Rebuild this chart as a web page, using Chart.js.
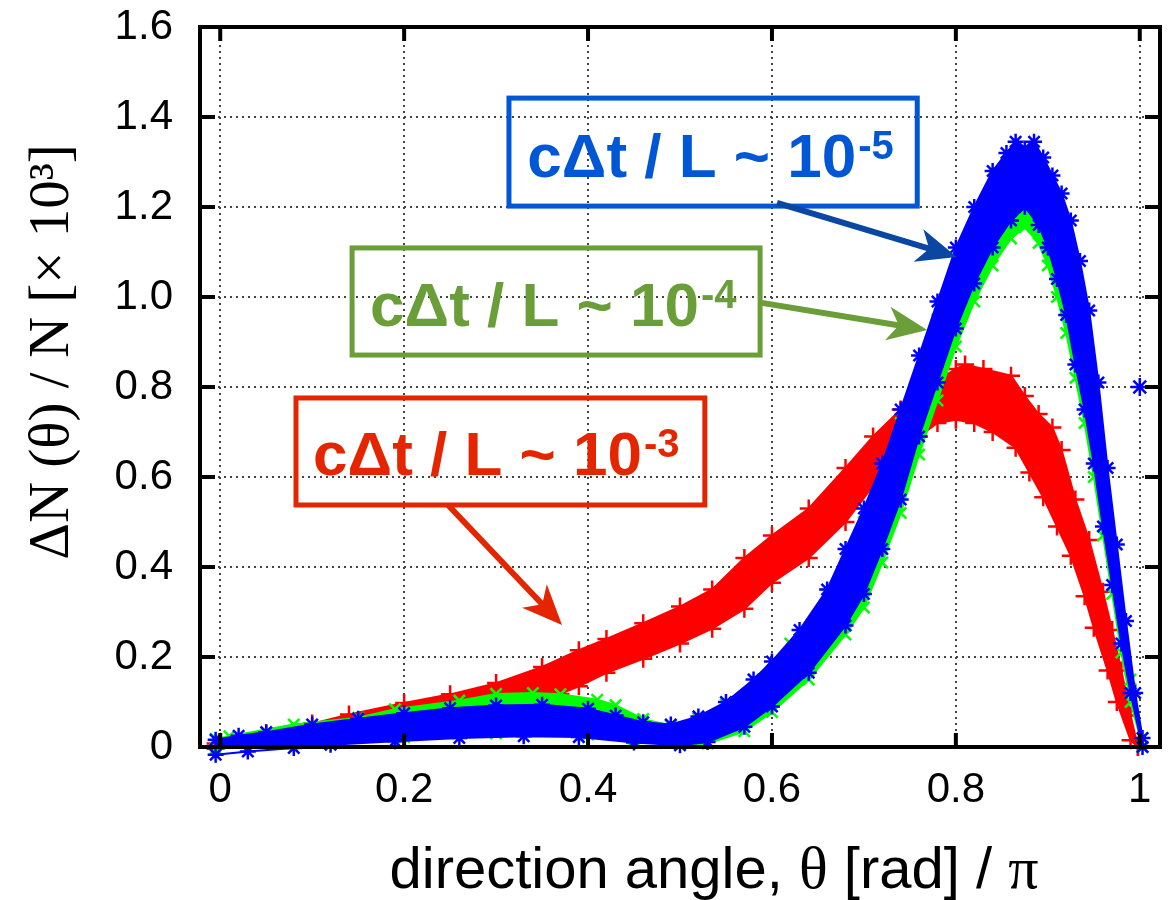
<!DOCTYPE html>
<html>
<head>
<meta charset="utf-8">
<script src="https://cdn.jsdelivr.net/npm/chart.js@4"></script>
<style>
  body { margin: 0; background: #fff; }
  #wrap { width: 1175px; height: 900px; }
</style>
</head>
<body>
<div id="wrap"><canvas id="angleChart"></canvas></div>
<script>
// ----------- Data -----------
// each run is drawn as a band: upper and lower envelope of its scatter
const xTickValues = [0, 0.2, 0.4, 0.6, 0.8, 1];
const xTickLabels = ["0", "0.2", "0.4", "0.6", "0.8", "1"];
const yTickValues = [0, 0.2, 0.4, 0.6, 0.8, 1.0, 1.2, 1.4, 1.6];
const yTickLabels = ["0", "0.2", "0.4", "0.6", "0.8", "1.0", "1.2", "1.4", "1.6"];

// cΔt / L ~ 10^-3 (red)
const redUpX = [-0.005, 0.05, 0.1, 0.14, 0.2, 0.25, 0.3, 0.35, 0.39, 0.42, 0.46, 0.5, 0.535, 0.57, 0.6, 0.64, 0.68, 0.71, 0.74, 0.76, 0.78, 0.8, 0.81, 0.83, 0.86, 0.875, 0.89, 0.905, 0.915, 0.93, 0.945, 0.96, 0.97, 0.98, 0.99, 0.998];
const redUpY = [0.008, 0.03, 0.052, 0.072, 0.098, 0.117, 0.142, 0.178, 0.215, 0.24, 0.275, 0.312, 0.35, 0.42, 0.47, 0.53, 0.62, 0.69, 0.75, 0.78, 0.815, 0.84, 0.85, 0.84, 0.825, 0.78, 0.74, 0.71, 0.66, 0.55, 0.46, 0.345, 0.26, 0.17, 0.07, 0.0];
const redLowX = [-0.005, 0.05, 0.1, 0.2, 0.3, 0.37, 0.39, 0.42, 0.46, 0.5, 0.535, 0.57, 0.6, 0.64, 0.68, 0.71, 0.74, 0.76, 0.78, 0.8, 0.82, 0.84, 0.865, 0.88, 0.895, 0.91, 0.925, 0.94, 0.95, 0.965, 0.975, 0.99, 0.998];
const redLowY = [-0.004, 0.012, 0.028, 0.058, 0.09, 0.118, 0.135, 0.165, 0.196, 0.23, 0.263, 0.307, 0.365, 0.42, 0.5, 0.58, 0.65, 0.69, 0.72, 0.727, 0.72, 0.7, 0.665, 0.61, 0.555, 0.49, 0.425, 0.335, 0.265, 0.17, 0.1, 0.015, 0.0];

// cΔt / L ~ 10^-4 (green)
const greenUpX = [-0.005, 0.01, 0.08, 0.15, 0.19, 0.26, 0.3, 0.34, 0.37, 0.41, 0.43, 0.46, 0.49, 0.52, 0.55, 0.58, 0.62, 0.66, 0.7, 0.74, 0.78, 0.82, 0.85, 0.87, 0.89, 0.91, 0.93, 0.95, 0.97, 0.99, 1.003];
const greenUpY = [0.018, 0.024, 0.05, 0.065, 0.084, 0.103, 0.118, 0.12, 0.117, 0.105, 0.093, 0.062, 0.048, 0.064, 0.095, 0.15, 0.23, 0.34, 0.5, 0.72, 0.95, 1.15, 1.23, 1.25, 1.24, 1.18, 1.05, 0.8, 0.45, 0.15, 0.02];
const greenLowX = [-0.005, 0.1, 0.2, 0.3, 0.4, 0.45, 0.5, 0.53, 0.57, 0.6, 0.64, 0.68, 0.7, 0.72, 0.74, 0.76, 0.78, 0.8, 0.82, 0.84, 0.86, 0.875, 0.89, 0.9, 0.91, 0.92, 0.93, 0.94, 0.95, 0.96, 0.97, 0.98, 0.99, 1.003];
const greenLowY = [-0.004, 0.012, 0.022, 0.03, 0.028, 0.014, 0.004, 0.008, 0.035, 0.078, 0.15, 0.25, 0.31, 0.41, 0.52, 0.65, 0.77, 0.89, 0.99, 1.07, 1.13, 1.155, 1.12, 1.07, 1.0, 0.92, 0.82, 0.72, 0.6, 0.47, 0.34, 0.21, 0.1, 0.0];

// cΔt / L ~ 10^-5 (blue)
const blueUpX = [-0.005, 0.02, 0.05, 0.1, 0.15, 0.2, 0.25, 0.3, 0.35, 0.4, 0.43, 0.46, 0.49, 0.52, 0.55, 0.58, 0.6, 0.63, 0.66, 0.68, 0.7, 0.72, 0.74, 0.76, 0.78, 0.8, 0.82, 0.84, 0.855, 0.865, 0.875, 0.885, 0.895, 0.905, 0.915, 0.925, 0.935, 0.945, 0.955, 0.965, 0.975, 0.985, 0.995, 1.003];
const blueUpY = [0.016, 0.025, 0.033, 0.05, 0.063, 0.075, 0.086, 0.092, 0.094, 0.085, 0.07, 0.055, 0.05, 0.068, 0.1, 0.15, 0.19, 0.26, 0.35, 0.44, 0.53, 0.63, 0.75, 0.87, 0.99, 1.11, 1.2, 1.28, 1.32, 1.345, 1.33, 1.345, 1.31, 1.27, 1.23, 1.17, 1.08, 0.97, 0.81, 0.62, 0.45, 0.28, 0.12, 0.02];
const blueLowX = [-0.005, 0.03, 0.08, 0.12, 0.19, 0.26, 0.33, 0.39, 0.45, 0.5, 0.53, 0.57, 0.6, 0.64, 0.68, 0.7, 0.72, 0.74, 0.76, 0.78, 0.8, 0.82, 0.84, 0.86, 0.875, 0.89, 0.9, 0.91, 0.92, 0.93, 0.94, 0.95, 0.96, 0.97, 0.98, 0.99, 1.003];
const blueLowY = [-0.017, -0.01, -0.002, 0.005, 0.013, 0.02, 0.024, 0.022, 0.01, 0.004, 0.011, 0.045, 0.09, 0.165, 0.27, 0.34, 0.44, 0.55, 0.69, 0.81, 0.93, 1.03, 1.11, 1.17, 1.2, 1.16, 1.11, 1.04, 0.96, 0.85, 0.75, 0.63, 0.49, 0.36, 0.23, 0.12, 0.0];
const blueStrayX = [1.0];
const blueStrayY = [0.8];

// ----------- Labels in the plot (data coordinates) -----------
const notes = [
    { color: "#0057d6", arrowColor: "#0a47a3", exp: "-5",
      box: [0.314, 1.442, 0.758, 1.202], text: [0.334, 1.267],
      from: [0.6055, 1.209], to: [0.801, 1.089] },
    { color: "#6a9e39", arrowColor: "#6a9e39", exp: "-4",
      box: [0.1434, 1.109, 0.5871, 0.871], text: [0.163, 0.936],
      from: [0.589, 0.987], to: [0.7689, 0.9267] },
    { color: "#e32600", arrowColor: "#e32600", exp: "-3",
      box: [0.0824, 0.7756, 0.527, 0.5378], text: [0.101, 0.604],
      from: [0.2477, 0.5378], to: [0.3717, 0.2711] }
];

const pairs = (xs, ys) => xs.map((v, i) => ({ x: v, y: ys[i] }));

function band(xs, ys, color, style, size, fill) {
    return {
        data: pairs(xs, ys),
        showLine: true,
        borderColor: color,
        backgroundColor: color,
        borderWidth: 2,
        pointStyle: style,
        pointRadius: size,
        pointBorderWidth: 2.5,
        pointBorderColor: color,
        fill: fill,
        clip: false
    };
}

// ----------- Frame, inward ticks, titles, notes -----------
function arrow(ctx, x0, y0, x1, y1, color) {
    const dx = x1 - x0, dy = y1 - y0, len = Math.hypot(dx, dy);
    const ux = dx / len, uy = dy / len;
    const L = 40, W = 17;
    ctx.strokeStyle = color;
    ctx.fillStyle = color;
    ctx.lineWidth = 6;
    ctx.beginPath();
    ctx.moveTo(x0, y0);
    ctx.lineTo(x1 - ux * L * 0.7, y1 - uy * L * 0.7);
    ctx.stroke();
    ctx.beginPath();
    ctx.moveTo(x1, y1);
    ctx.lineTo(x1 - ux * L - uy * W, y1 - uy * L + ux * W);
    ctx.lineTo(x1 - ux * L * 0.72, y1 - uy * L * 0.72);
    ctx.lineTo(x1 - ux * L + uy * W, y1 - uy * L - ux * W);
    ctx.closePath();
    ctx.fill();
}

const decor = {
    id: "decor",
    afterDatasetsDraw(chart) {
        const { ctx, chartArea: a, scales: { x, y } } = chart;
        ctx.save();
        ctx.strokeStyle = "#000";
        ctx.lineWidth = 4;
        ctx.beginPath();
        xTickValues.forEach(v => {
            const px = x.getPixelForValue(v);
            ctx.moveTo(px, a.bottom); ctx.lineTo(px, a.bottom - 14);
            ctx.moveTo(px, a.top); ctx.lineTo(px, a.top + 14);
        });
        yTickValues.forEach(v => {
            const py = y.getPixelForValue(v);
            ctx.moveTo(a.left, py); ctx.lineTo(a.left + 15, py);
            ctx.moveTo(a.right, py); ctx.lineTo(a.right - 15, py);
        });
        ctx.stroke();
        ctx.strokeRect(a.left, a.top, a.right - a.left, a.bottom - a.top);

        notes.forEach(n => {
            const bx0 = x.getPixelForValue(n.box[0]), by0 = y.getPixelForValue(n.box[1]);
            const bx1 = x.getPixelForValue(n.box[2]), by1 = y.getPixelForValue(n.box[3]);
            ctx.strokeStyle = n.color;
            ctx.lineWidth = 5;
            ctx.strokeRect(bx0, by0, bx1 - bx0, by1 - by0);
            const tx = x.getPixelForValue(n.text[0]), ty = y.getPixelForValue(n.text[1]);
            ctx.fillStyle = n.color;
            ctx.textAlign = "left";
            ctx.textBaseline = "alphabetic";
            ctx.font = 'bold 62px "Liberation Sans", Arial, sans-serif';
            const main = "cΔt / L ~ 10";
            ctx.fillText(main, tx, ty);
            const w = ctx.measureText(main).width;
            ctx.font = 'bold 40px "Liberation Sans", Arial, sans-serif';
            ctx.fillText(n.exp, tx + w + 2, ty - 18);
            arrow(ctx, x.getPixelForValue(n.from[0]), y.getPixelForValue(n.from[1]),
                  x.getPixelForValue(n.to[0]), y.getPixelForValue(n.to[1]), n.arrowColor);
        });
        ctx.restore();
    },
    afterDraw(chart) {
        const { ctx } = chart;
        ctx.save();
        ctx.fillStyle = "#000";
        // y title (serif, rotated)
        ctx.translate(68, 352);
        ctx.rotate(-Math.PI / 2);
        ctx.font = '57px "Liberation Serif", "Times New Roman", serif';
        ctx.textAlign = "center";
        ctx.textBaseline = "alphabetic";
        ctx.fillText("ΔN (θ) / N [× 10³]", 0, 0);
        ctx.restore();

        // x title, sans with serif greek letters
        ctx.save();
        ctx.fillStyle = "#000";
        ctx.textBaseline = "alphabetic";
        const sans = '58px "Liberation Sans", Arial, sans-serif';
        const serif = '60px "Liberation Serif", "Times New Roman", serif';
        const parts = [["direction angle, ", sans], ["θ", serif], [" [rad] / ", sans], ["π", serif]];
        let total = 0;
        parts.forEach(p => { ctx.font = p[1]; total += ctx.measureText(p[0]).width; });
        let cx = 714 - total / 2;
        parts.forEach(p => {
            ctx.font = p[1];
            ctx.fillText(p[0], cx, 888);
            cx += ctx.measureText(p[0]).width;
        });
        ctx.restore();
    }
};

// ----------- Chart.js -----------
const ctx = document.getElementById("angleChart");
new Chart(ctx, {
    type: "scatter",
    data: {
        datasets: [
            { data: pairs(blueStrayX, blueStrayY), pointStyle: "star", pointRadius: 9,
              pointBorderWidth: 2.5, borderColor: "#0000ff", backgroundColor: "#0000ff", clip: false },
            band(blueLowX, blueLowY, "#0000ff", "star", 8, false),
            band(blueUpX, blueUpY, "#0000ff", "star", 8, "-1"),
            band(greenLowX, greenLowY, "#00ff00", "crossRot", 8, false),
            band(greenUpX, greenUpY, "#00ff00", "crossRot", 8, "-1"),
            band(redLowX, redLowY, "#ff0000", "cross", 9, false),
            band(redUpX, redUpY, "#ff0000", "cross", 9, "-1")
        ]
    },
    options: {
        responsive: true,
        maintainAspectRatio: false,
        animation: false,
        layout: { padding: { top: 27, right: 15, left: 0, bottom: 0 } },
        plugins: {
            legend: { display: false },
            tooltip: { enabled: false },
            filler: { drawTime: "beforeDatasetDraw" }
        },
        scales: {
            x: {
                type: "linear",
                min: -0.022,
                max: 1.022,
                afterBuildTicks: s => { s.ticks = xTickValues.map(v => ({ value: v })); },
                afterFit: s => { s.height = 153; s.paddingLeft = 0; s.paddingRight = 0; },
                ticks: {
                    callback: (v) => xTickLabels[xTickValues.indexOf(v)],
                    color: "#000",
                    font: { family: '"Liberation Sans", Arial, sans-serif', size: 42 },
                    padding: 18,
                    maxRotation: 0,
                    autoSkip: false
                },
                grid: { color: "#444", lineWidth: 2, drawTicks: false },
                border: { display: false, dash: [2, 4] }
            },
            y: {
                type: "linear",
                min: 0,
                max: 1.6,
                afterBuildTicks: s => { s.ticks = yTickValues.map(v => ({ value: v })); },
                afterFit: s => { s.width = 200; s.paddingTop = 0; s.paddingBottom = 0; },
                ticks: {
                    callback: (v) => yTickLabels[yTickValues.indexOf(v)],
                    color: "#000",
                    font: { family: '"Liberation Sans", Arial, sans-serif', size: 42 },
                    padding: 27,
                    autoSkip: false
                },
                grid: { color: "#444", lineWidth: 2, drawTicks: false },
                border: { display: false, dash: [2, 4] }
            }
        }
    },
    plugins: [decor]
});
</script>
</body>
</html>
